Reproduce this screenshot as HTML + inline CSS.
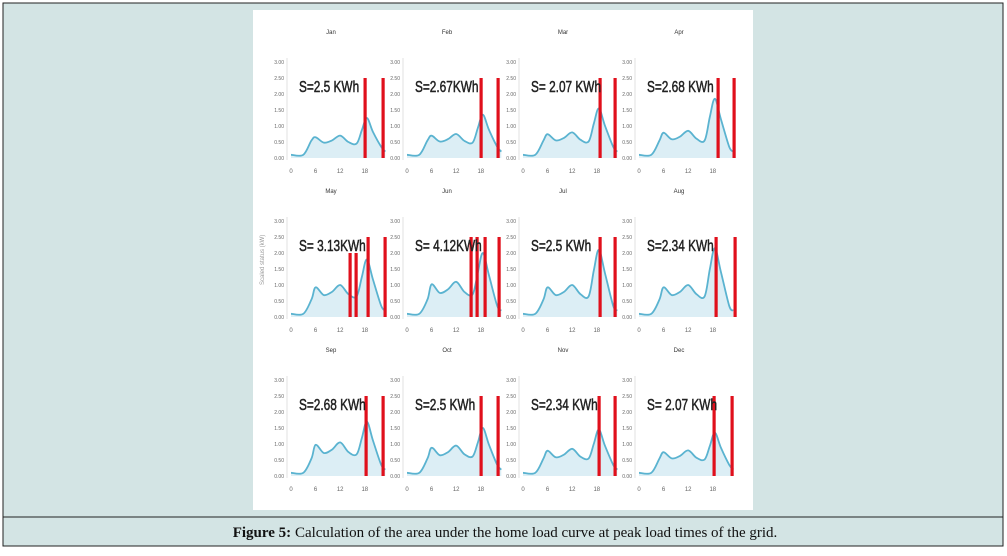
<!DOCTYPE html>
<html><head><meta charset="utf-8"><style>
html,body{margin:0;padding:0;background:#fff;}
body{width:1007px;height:551px;position:relative;overflow:hidden;font-family:"Liberation Sans",sans-serif;}
</style></head><body>
<svg id="s" width="1007" height="551" xmlns="http://www.w3.org/2000/svg">
<rect x="0" y="0" width="1007" height="551" fill="#fff"/>
<rect x="3" y="3" width="1000" height="543" fill="#d3e4e4" stroke="#222" stroke-width="1"/>
<line x1="3" y1="517" x2="1003" y2="517" stroke="#222" stroke-width="1"/>
<rect x="253" y="10" width="500" height="500" fill="#fff"/>
<text x="505" y="537" text-anchor="middle" font-family="Liberation Serif,serif" font-size="15" fill="#111"><tspan font-weight="bold">Figure 5:</tspan> Calculation of the area under the home load curve at peak load times of the grid.</text>
<text transform="translate(264,285) rotate(-90)" font-size="6" fill="#999">Scaled status (kW)</text>
<g id="g"></g>
</svg>
<script>
var months=["Jan","Feb","Mar","Apr","May","Jun","Jul","Aug","Sep","Oct","Nov","Dec"];
var labels=["S=2.5 KWh","S=2.67KWh","S= 2.07 KWh","S=2.68 KWh","S= 3.13KWh","S= 4.12KWh","S=2.5 KWh","S=2.34 KWh","S=2.68 KWh","S=2.5 KWh","S=2.34 KWh","S= 2.07 KWh"];
var peaks=[1.25,1.35,1.55,1.85,1.8,2.0,2.1,2.15,1.7,1.5,1.45,1.35];
var mids=[0.7,0.75,0.8,0.85,1.0,1.1,1.0,1.0,1.05,0.95,0.85,0.8];
var bars=[[74,92],[74,91],[77,92],[79,95],[59,65,77,94],[64,70,78,92],[77,92],[77,96],[75,92],[74,91],[76,92],[75,93]];
function smooth(P){var s="M"+P[0][0].toFixed(1)+","+P[0][1].toFixed(1);
 for(var i=0;i<P.length-1;i++){var p0=P[i-1]||P[i],p1=P[i],p2=P[i+1],p3=P[i+2]||p2;
  var c1x=p1[0]+(p2[0]-p0[0])/6,c1y=p1[1]+(p2[1]-p0[1])/6,c2x=p2[0]-(p3[0]-p1[0])/6,c2y=p2[1]-(p3[1]-p1[1])/6;
  s+="C"+c1x.toFixed(1)+","+c1y.toFixed(1)+" "+c2x.toFixed(1)+","+c2y.toFixed(1)+" "+p2[0].toFixed(1)+","+p2[1].toFixed(1);}
 return s;}
var out="";
for(var i=0;i<12;i++){
 var c=i%4,r=Math.floor(i/4);
 var x0=291+116*c, y0=158+159*r, ys=32;
 var xs=4.1;
 out+='<text x="'+(x0+40)+'" y="'+(y0-124)+'" text-anchor="middle" font-size="6" fill="#333">'+months[i]+'</text>';
 out+='<line x1="'+(x0-4)+'" y1="'+(y0-100)+'" x2="'+(x0-4)+'" y2="'+(y0+2)+'" stroke="#ccc" stroke-width="0.6"/>';
 var tl=["0.00","0.50","1.00","1.50","2.00","2.50","3.00"];
 for(var k=0;k<7;k++){out+='<text x="'+(x0-7)+'" y="'+(y0-k*16+2)+'" text-anchor="end" font-size="5" fill="#666">'+tl[k]+'</text>';}
 [0,6,12,18].forEach(function(h){out+='<text x="'+(x0+h*xs)+'" y="'+(y0+15)+'" text-anchor="middle" font-size="6" fill="#666">'+h+'</text>';});
 var p=peaks[i],m=mids[i];
 var pts=[[0,0.1],[3,0.1],[5,0.55],[6,0.65*m/0.7],[8,0.48*m/0.7],[10,0.55*m/0.7],[12,m],[14,0.5*m/0.7],[16,0.45*m/0.7],[17.3,p*0.7],[18.5,p],[20,p*0.65],[22,0.35],[23,0.2]];
 var P=pts.map(function(q){return [x0+q[0]*xs,y0-q[1]*ys];});
 var line=smooth(P);
 var d=line+"L"+P[P.length-1][0].toFixed(1)+","+y0+"L"+x0+","+y0+"Z";
 out+='<path d="'+d+'" fill="#dceef5"/>';
 out+='<path d="'+line+'" fill="none" stroke="#5ab3d0" stroke-width="1.8" stroke-linejoin="round"/>';
 bars[i].forEach(function(b,bi){var top=(i==4&&bi<2)?y0-64:y0-80;out+='<rect x="'+(x0+b-1.5)+'" y="'+top+'" width="3.2" height="'+(y0-top)+'" fill="#e0101c"/>';});
 out+='<text x="'+(x0+8)+'" y="'+(y0-66)+'" font-size="16" fill="#222" stroke="#222" stroke-width="0.5" transform="translate('+(x0+8)+',0) scale(0.74,1) translate('+(-(x0+8))+',0)">'+labels[i]+'</text>';
}
document.getElementById("g").innerHTML=out;
</script>
</body></html>
